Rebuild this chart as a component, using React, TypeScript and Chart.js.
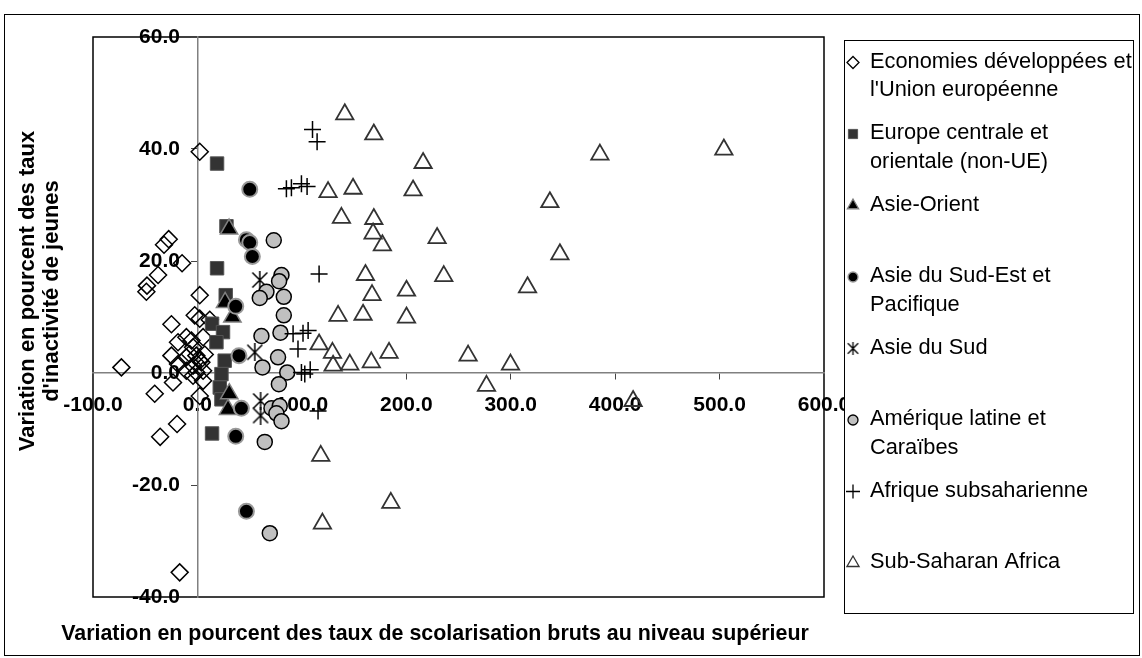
import React, { useEffect, useRef } from 'react';
import { Chart, registerables } from 'chart.js';
import { drawPoint } from 'chart.js/helpers';

Chart.register(...registerables);

const seriesNames: string[][] = [
  ['Economies développées et', "l'Union européenne"],
  ['Europe centrale et', 'orientale (non-UE)'],
  ['Asie-Orient'],
  ['Asie du Sud-Est et', 'Pacifique'],
  ['Asie du Sud'],
  ['Amérique latine et', 'Caraïbes'],
  ['Afrique subsaharienne'],
  ['Sub-Saharan Africa'],
];

const xTickValues = [-100, 0, 100, 200, 300, 400, 500, 600];
const yTickValues = [-40, -20, 0, 20, 40, 60];
const xTitle = 'Variation en pourcent des taux de scolarisation bruts au niveau supérieur';
const yTitleLines = ['Variation en pourcent des taux', "d'inactivité de jeunes"];

const developed: [number, number][] = [
  [2.2, 39.5], [-27.5, 23.9], [-32, 22.9], [-14.7, 19.6], [-37.7, 17.5], [-48.3, 15.6],
  [-48.9, 14.5], [2.2, 13.9], [-24.9, 8.7], [-2.6, 10.3], [2.2, 9.7], [11.8, 9.5],
  [-18.6, 5.5], [-5.7, 5.8], [5.4, 6.4], [-10.6, 6.4], [-4.2, 4.6], [-24.9, 3.1],
  [-7.4, 3.4], [-1, 3.1], [7, 3.3], [-10.6, 2.8], [2.2, 2.2], [-18.6, 1.6],
  [-4.2, 1.3], [3.8, 1.9], [-72.8, 1.0], [-10.6, 0.4], [-1, 0.1], [5.4, 0.4],
  [-4.2, -0.5], [-23.4, -1.7], [5.4, -1.4], [-40.9, -3.7], [2.2, -4.1], [-19.5, -9.1],
  [-35.7, -11.4], [-17, -35.6],
];
const centralEurope: [number, number][] = [
  [18.8, 37.4], [27.8, 26.2], [18.8, 18.7], [27.1, 13.9], [14, 8.8], [24.5, 7.3],
  [18.2, 5.5], [26.1, 2.2], [23, -0.2], [21.4, -2.6], [23, -4.7], [14, -10.8],
];
const eastAsia: [number, number][] = [
  [30.3, 25.7], [26.5, 12.6], [33.5, 10.0], [30.5, -3.7], [29.3, -6.5],
];
const southEastAsia: [number, number][] = [
  [50.1, 32.8], [46.9, 23.8], [50.1, 23.3], [52.6, 20.8], [36.7, 11.9], [39.8, 3.1],
  [42.1, -6.3], [36.7, -11.3], [46.9, -24.7],
];
const southAsia: [number, number][] = [
  [59.7, 16.6], [54.9, 3.7], [60.5, -5.0], [60.5, -7.6],
];
const latinAmerica: [number, number][] = [
  [73.1, 23.7], [80.5, 17.5], [78.2, 16.4], [66.1, 14.5], [59.7, 13.4], [82.7, 13.6],
  [82.7, 10.3], [61.3, 6.6], [79.5, 7.2], [77.2, 2.8], [62.3, 1.0], [86, 0.1],
  [78, -2.0], [70.9, -6.3], [78.8, -5.9], [75.6, -7.2], [80.5, -8.6], [64.5, -12.3],
  [69.3, -28.6],
];
const africaFr: [number, number][] = [
  [110.2, 43.5], [114.6, 41.3], [85.2, 32.9], [90, 33.1], [99.6, 33.8], [105, 33.3],
  [116.5, 17.7], [91.6, 7.0], [101.1, 7.1], [106, 7.6], [96.3, 4.3], [99.6, 0.1],
  [102.8, -0.2], [108, 0.6], [115.5, -6.8],
];
const africaEn: [number, number][] = [
  [141.1, 46.2], [168.9, 42.6], [216.1, 37.5], [125.1, 32.3], [149, 32.9], [206.5, 32.6],
  [137.9, 27.7], [168.9, 27.5], [168.2, 24.9], [177.1, 22.8], [229.5, 24.1], [160.9, 17.5],
  [235.9, 17.3], [167.2, 13.9], [200.2, 14.7], [134.7, 10.2], [158.6, 10.4], [200.2, 9.9],
  [116.5, 5.1], [129.3, 3.6], [129.9, 1.3], [145.9, 1.5], [166.5, 1.9], [183.5, 3.6],
  [259.2, 3.1], [299.8, 1.5], [276.8, -2.3], [118.1, -14.8], [185.2, -23.2], [119.7, -26.9],
  [385.4, 39.0], [504.1, 39.9], [337.5, 30.5], [347.1, 21.2], [316.1, 15.3], [417.2, -5.0],
];

const seriesData = [developed, centralEurope, eastAsia, southEastAsia, southAsia, latinAmerica, africaFr, africaEn];

const FONT = "'Liberation Sans', Arial, sans-serif";

function makeAsterisk(size: number, lw: number): HTMLCanvasElement {
  const c = document.createElement('canvas');
  c.width = size;
  c.height = size;
  const g = c.getContext('2d')!;
  g.strokeStyle = '#000';
  g.lineWidth = lw;
  const m = lw;
  g.beginPath();
  g.moveTo(m, m); g.lineTo(size - m, size - m);
  g.moveTo(size - m, m); g.lineTo(m, size - m);
  g.moveTo(size / 2, 0); g.lineTo(size / 2, size);
  g.stroke();
  return c;
}

export default function App() {
  const ref = useRef<HTMLCanvasElement>(null);
  useEffect(() => {
    const asteriskBig = makeAsterisk(18, 1.5);
    const asteriskSmall = makeAsterisk(13, 1.3);
    const styles: any[] = [
      { pointStyle: 'rectRot', radius: 8.5, bg: 'rgba(255,255,255,0)', border: '#000', bw: 1.5, lr: 6 },
      { pointStyle: 'rect', radius: 9.5, bg: '#333333', border: '#555555', bw: 1, lr: 6.5 },
      { pointStyle: 'triangle', radius: 10, bg: '#000000', border: '#808080', bw: 1.5, lr: 6.5 },
      { pointStyle: 'circle', radius: 7.5, bg: '#000000', border: '#999999', bw: 2, lr: 5 },
      { pointStyle: asteriskBig, radius: 9, bg: '#000', border: '#000', bw: 1, lr: 6, legendImg: asteriskSmall },
      { pointStyle: 'circle', radius: 7.5, bg: '#c0c0c0', border: '#000000', bw: 1.5, lr: 5 },
      { pointStyle: 'cross', radius: 8.5, bg: '#000', border: '#000', bw: 1.5, lr: 7 },
      { pointStyle: 'triangle', radius: 10, bg: 'rgba(255,255,255,0)', border: '#333333', bw: 1.8, lr: 7 },
    ];

    const decor = {
      id: 'decor',
      beforeDraw(chart: any) {
        const { ctx, chartArea: a } = chart;
        ctx.save();
        ctx.fillStyle = '#fff';
        ctx.fillRect(0, 0, chart.width, chart.height);
        ctx.strokeStyle = '#000';
        ctx.lineWidth = 1;
        ctx.strokeRect(4.5, 14.5, 1135, 641);
        ctx.lineWidth = 1.5;
        ctx.strokeRect(a.left, a.top, a.right - a.left, a.bottom - a.top);
        ctx.restore();
      },
      afterDraw(chart: any) {
        const { ctx } = chart;
        ctx.save();
        ctx.fillStyle = '#000';
        ctx.font = `bold 21.4px ${FONT}`;
        ctx.textAlign = 'center';
        ctx.textBaseline = 'middle';
        ctx.fillText(xTitle, 435, 634);
        ctx.font = `bold 22px ${FONT}`;
        ctx.save();
        ctx.translate(28, 291);
        ctx.rotate(-Math.PI / 2);
        ctx.fillText(yTitleLines[0], 0, 0);
        ctx.restore();
        ctx.save();
        ctx.translate(52, 291);
        ctx.rotate(-Math.PI / 2);
        ctx.fillText(yTitleLines[1], 0, 0);
        ctx.restore();

        // legend
        const lx = 844.5, ly = 40.5, lw = 289, lh = 573;
        ctx.fillStyle = '#fff';
        ctx.fillRect(lx, ly, lw, lh);
        ctx.strokeStyle = '#000';
        ctx.lineWidth = 1;
        ctx.strokeRect(lx, ly, lw, lh);
        const slot = 71.5;
        ctx.font = `21.8px ${FONT}`;
        ctx.textAlign = 'left';
        seriesNames.forEach((lines, i) => {
          const y0 = 61.5 + i * slot;
          const s = styles[i];
          ctx.save();
          ctx.fillStyle = s.bg;
          ctx.strokeStyle = s.border;
          ctx.lineWidth = Math.min(s.bw, 1.3);
          drawPoint(ctx, {
            pointStyle: s.legendImg || s.pointStyle,
            radius: s.lr,
            rotation: 0,
            borderWidth: Math.min(s.bw, 1.3),
          } as any, 853, y0 + 1);
          ctx.restore();
          ctx.fillStyle = '#000';
          lines.forEach((t, j) => ctx.fillText(t, 870, y0 + j * 28.5));
        });
        ctx.restore();
      },
    };

    const chart = new Chart(ref.current!, {
      type: 'scatter',
      data: {
        datasets: seriesData.map((d, i) => ({
          label: seriesNames[i].join(' '),
          data: d.map(([x, y]) => ({ x, y })),
          pointStyle: styles[i].pointStyle,
          pointRadius: styles[i].radius,
          pointBackgroundColor: styles[i].bg,
          pointBorderColor: styles[i].border,
          pointBorderWidth: styles[i].bw,
          order: -i,
          clip: false as any,
        })),
      },
      options: {
        responsive: false,
        animation: false,
        events: [],
        layout: { padding: { left: 93, top: 37, right: 318, bottom: 61 } },
        plugins: { legend: { display: false }, tooltip: { enabled: false } },
        scales: {
          x: {
            type: 'linear',
            min: -100,
            max: 600,
            position: { y: 0 } as any,
            afterBuildTicks: (s: any) => { s.ticks = xTickValues.map((v) => ({ value: v })); },
            ticks: {
              autoSkip: false,
              maxRotation: 0,
              padding: 14,
              color: '#000',
              font: { family: FONT, size: 21, weight: 'bold' },
              callback: (v: any) => Number(v).toFixed(1),
            },
            grid: { drawOnChartArea: false, drawTicks: true, tickLength: 6, color: '#444' },
            border: { display: true, color: '#808080', width: 1.5 },
          },
          y: {
            type: 'linear',
            min: -40,
            max: 60,
            position: { x: 0 } as any,
            afterBuildTicks: (s: any) => { s.ticks = yTickValues.map((v) => ({ value: v })); },
            ticks: {
              autoSkip: false,
              padding: 10,
              color: '#000',
              font: { family: FONT, size: 21, weight: 'bold' },
              callback: (v: any) => Number(v).toFixed(1) + '   ',
            },
            grid: { drawOnChartArea: false, drawTicks: true, tickLength: 6, color: '#444' },
            border: { display: true, color: '#808080', width: 1.5 },
          },
        },
      },
      plugins: [decor],
    });
    return () => chart.destroy();
  }, []);

  return (
    <div style={{ position: 'absolute', left: 0, top: 0, width: 1142, height: 658, background: '#fff' }}>
      <canvas ref={ref} width={1142} height={658} style={{ display: 'block', width: 1142, height: 658 }} />
    </div>
  );
}
